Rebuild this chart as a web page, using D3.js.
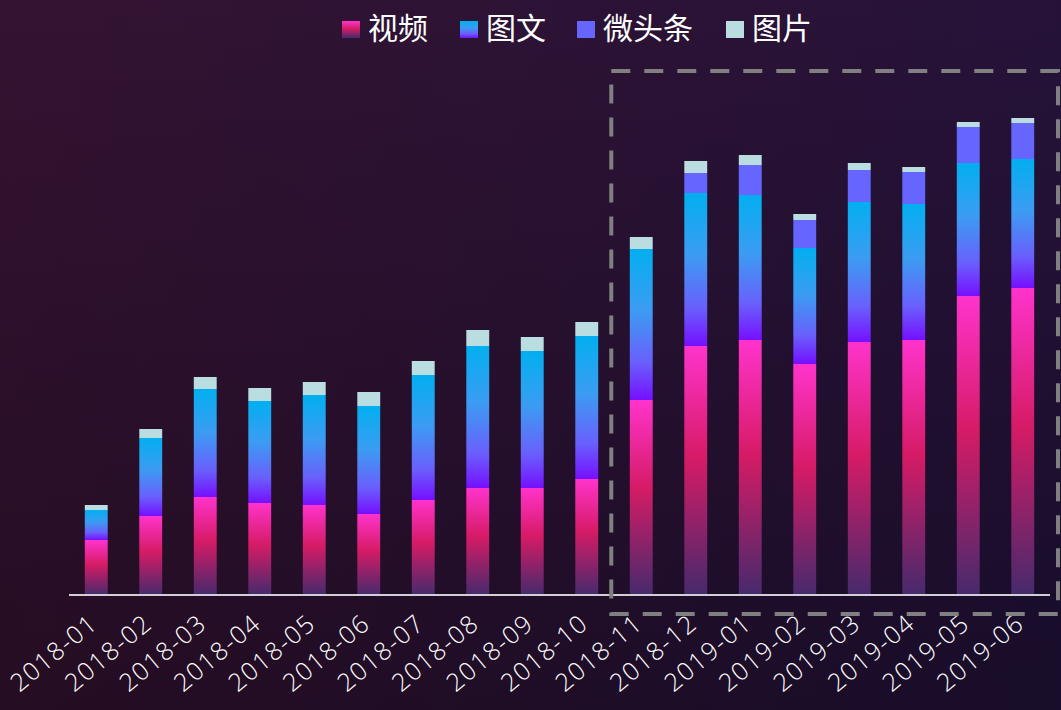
<!DOCTYPE html>
<html>
<head>
<meta charset="utf-8">
<script src="https://cdn.jsdelivr.net/npm/d3@7"></script>
<style>
  html, body { margin: 0; padding: 0; background: #1f0d22; }
  svg { display: block; }
</style>
</head>
<body>
<div id="chart"></div>
<script>
// data
const months = ["2018-01","2018-02","2018-03","2018-04","2018-05","2018-06","2018-07","2018-08","2018-09",
                "2018-10","2018-11","2018-12","2019-01","2019-02","2019-03","2019-04","2019-05","2019-06"];
const seriesNames = ["视频", "图文", "微头条", "图片"];
const video   = [55, 79, 98, 92, 90, 81, 95, 107, 107, 116, 195, 249, 255, 231, 253, 255, 299, 307];
const article = [30, 78, 108, 102, 110, 108, 125, 142, 137, 143, 151, 153, 145, 116, 140, 136, 133, 129];
const micro   = [0, 0, 0, 0, 0, 0, 0, 0, 0, 0, 0, 20, 30, 28, 32, 32, 36, 36];
const picture = [5, 9, 12, 13, 13, 14, 14, 16, 14, 14, 12, 12, 10, 6, 7, 5, 5, 5];
const highlightFrom = "2018-11";

const W = 1061, H = 710;
const margin = {top: 95, right: 11, bottom: 115, left: 69};

const svg = d3.select("#chart").append("svg")
    .attr("width", W)
    .attr("height", H);

const defs = svg.append("defs");

// background
const bg = defs.append("linearGradient").attr("id", "bg")
    .attr("x1", 0).attr("y1", 0).attr("x2", 0).attr("y2", 1);
bg.append("stop").attr("offset", "0%").attr("stop-color", "#301432");
bg.append("stop").attr("offset", "100%").attr("stop-color", "#1a0b1b");
const bgTint = defs.append("linearGradient").attr("id", "bgTint")
    .attr("x1", 0).attr("y1", 0).attr("x2", 1).attr("y2", 0);
bgTint.append("stop").attr("offset", "0%").attr("stop-color", "#3a1030").attr("stop-opacity", 0.35);
bgTint.append("stop").attr("offset", "100%").attr("stop-color", "#141046").attr("stop-opacity", 0.35);

svg.append("rect").attr("width", W).attr("height", H).attr("fill", "url(#bg)");
svg.append("rect").attr("width", W).attr("height", H).attr("fill", "url(#bgTint)");

// bar gradients
const gVideo = defs.append("linearGradient").attr("id", "gVideo")
    .attr("x1", 0).attr("y1", 0).attr("x2", 0).attr("y2", 1);
gVideo.append("stop").attr("offset", "0%").attr("stop-color", "#ff33cc");
gVideo.append("stop").attr("offset", "45%").attr("stop-color", "#d61b66");
gVideo.append("stop").attr("offset", "100%").attr("stop-color", "#462a6c");

const gArticle = defs.append("linearGradient").attr("id", "gArticle")
    .attr("x1", 0).attr("y1", 0).attr("x2", 0).attr("y2", 1);
gArticle.append("stop").attr("offset", "0%").attr("stop-color", "#02aff0");
gArticle.append("stop").attr("offset", "40%").attr("stop-color", "#3b9cf2");
gArticle.append("stop").attr("offset", "75%").attr("stop-color", "#6960fc");
gArticle.append("stop").attr("offset", "100%").attr("stop-color", "#7510ff");

const fills = ["url(#gVideo)", "url(#gArticle)", "#6666ff", "#badde2"];

// scales
const x = d3.scaleBand()
    .domain(months)
    .range([margin.left, W - margin.right])
    .paddingInner(0.58)
    .paddingOuter(0.29);

const y = d3.scaleLinear()
    .domain([0, 500])
    .range([H - margin.bottom, H - margin.bottom - 500]);

// stack
const rows = months.map((m, i) => ({
    month: m,
    "视频": video[i], "图文": article[i], "微头条": micro[i], "图片": picture[i]
}));
const stacked = d3.stack().keys(seriesNames)(rows);

svg.append("g")
  .selectAll("g")
  .data(stacked)
  .join("g")
    .attr("fill", (d, i) => fills[i])
  .selectAll("rect")
  .data(d => d.filter(s => s[1] > s[0]))
  .join("rect")
    .attr("x", d => x(d.data.month))
    .attr("width", x.bandwidth())
    .attr("y", d => y(d[1]))
    .attr("height", d => y(d[0]) - y(d[1]));

// x axis line
svg.append("line")
    .attr("x1", margin.left).attr("x2", W - margin.right)
    .attr("y1", y(0)).attr("y2", y(0))
    .attr("stroke", "#cfcfd6")
    .attr("stroke-width", 2);

// x labels
svg.append("g")
  .selectAll("text")
  .data(months)
  .join("text")
    .attr("transform", d => `translate(${x(d) + x.bandwidth() / 2 + 3},${y(0) + 31}) rotate(-40)`)
    .attr("text-anchor", "end")
    .attr("fill", "#ffffff")
    .style("font-family", "'Open Sans', sans-serif")
    .style("font-size", "25px")
    .style("font-weight", 300)
    .style("letter-spacing", "1.5px")
    .text(d => d);

// highlight box
const boxLeft = x(highlightFrom) - x.step() * 0.34;
svg.append("rect")
    .attr("x", boxLeft)
    .attr("y", 71)
    .attr("width", W - 3 - boxLeft)
    .attr("height", y(0) + 19 - 71)
    .attr("fill", "none")
    .attr("stroke", "#808080")
    .attr("stroke-width", 4)
    .attr("stroke-dasharray", "19,14");

// legend
const legendX = [342, 460, 577, 726];
const legend = svg.append("g")
  .selectAll("g")
  .data(seriesNames)
  .join("g")
    .attr("transform", (d, i) => `translate(${legendX[i]},0)`);
legend.append("rect")
    .attr("y", 21)
    .attr("width", 18)
    .attr("height", 17)
    .attr("fill", (d, i) => fills[i]);
legend.append("text")
    .attr("x", 26)
    .attr("y", 39)
    .attr("fill", "#ffffff")
    .style("font-family", "'Noto Sans CJK SC', sans-serif")
    .style("font-size", "30px")
    .text(d => d);
</script>
</body>
</html>
